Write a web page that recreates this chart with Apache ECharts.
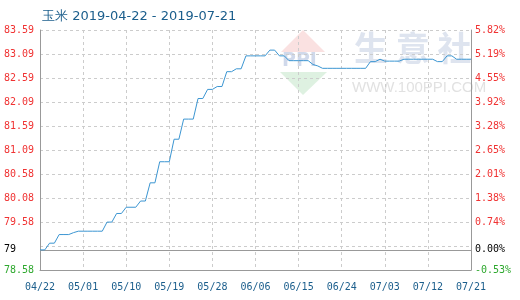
<!DOCTYPE html>
<html>
<head>
<meta charset="utf-8">
<script src="https://cdn.jsdelivr.net/npm/echarts@6/dist/echarts.min.js"></script>
<style>html,body{margin:0;padding:0;background:#fff;}#c{width:520px;height:300px;}</style>
</head>
<body>
<div id="c"></div>
<script>
var titleText = '玉米 2019-04-22 - 2019-07-21';
var startDate = [2019, 3, 22];
var dayCount = 91;
var xTickLabels = ['04/22','05/01','05/10','05/19','05/28','06/06','06/15','06/24','07/03','07/12','07/21'];
var prices = [
  79.00, 79.00, 79.14, 79.14, 79.32, 79.32, 79.32, 79.36, 79.39, 79.39,
  79.39, 79.39, 79.39, 79.39, 79.58, 79.58, 79.76, 79.76, 79.89, 79.89,
  79.89, 80.02, 80.02, 80.40, 80.40, 80.84, 80.84, 80.84, 81.31, 81.31,
  81.73, 81.73, 81.73, 82.16, 82.16, 82.35, 82.35, 82.41, 82.41, 82.72,
  82.72, 82.78, 82.78, 83.05, 83.05, 83.05, 83.05, 83.05, 83.17, 83.17,
  83.05, 83.05, 82.95, 82.95, 82.95, 82.95, 82.95, 82.87, 82.84, 82.79,
  82.79, 82.79, 82.79, 82.79, 82.79, 82.79, 82.79, 82.79, 82.79, 82.93,
  82.93, 82.98, 82.94, 82.94, 82.94, 82.94, 82.98, 82.98, 82.98, 82.98,
  82.98, 82.98, 82.98, 82.93, 82.93, 83.05, 83.05, 82.98, 82.98, 82.98,
  82.98
];
var baseValue = 79;
var yMin = 78.58, yMax = 83.59;
var leftTickLabels = ['78.58','','79.58','80.08','80.58','81.09','81.59','82.09','82.59','83.09','83.59'];
var rightTickLabels = ['-0.53%','','0.74%','1.38%','2.01%','2.65%','3.28%','3.92%','4.55%','5.19%','5.82%'];
var baseLeftLabel = '79';
var baseRightLabel = '0.00%';

var categories = [];
(function(){
  var d = new Date(startDate[0], startDate[1], startDate[2]);
  for (var i = 0; i < dayCount; i++) {
    var m = d.getMonth() + 1, dd = d.getDate();
    categories.push((m < 10 ? '0' : '') + m + '/' + (dd < 10 ? '0' : '') + dd);
    d.setDate(d.getDate() + 1);
  }
})();

var mono = 'DejaVu Sans Mono';
var RED = '#f03232', GREEN = '#2ea82e', BLUE = '#1b5e8c';
function tickColor(i){ return i === 0 ? GREEN : RED; }

var chart = echarts.init(document.getElementById('c'), null, {renderer: 'canvas'});
chart.setOption({
  animation: false,
  backgroundColor: '#fff',
  title: {
    text: titleText, left: 37, top: 5,
    textStyle: {fontFamily: 'DejaVu Sans', fontSize: 13, fontWeight: 'normal', color: BLUE}
  },
  grid: {left: 40, right: 49, top: 30, bottom: 30},
  graphic: [
    {type: 'polygon', z: 0, shape: {points: [[303,30],[281,52],[325,52]]}, style: {fill: 'rgba(240,170,170,0.35)'}},
    {type: 'polygon', z: 0, shape: {points: [[280,72],[327,72],[303,95]]}, style: {fill: 'rgba(160,215,170,0.35)'}},
    {type: 'text', z: 0, left: 282, top: 52, style: {text: 'PPI', font: 'bold 19px DejaVu Sans', fill: 'rgba(150,170,210,0.45)'}},
    {type: 'text', z: 0, left: 354, top: 31, style: {text: '生 意 社', font: 'bold 34px "Noto Sans CJK SC"', fill: 'rgba(200,210,228,0.6)'}},
    {type: 'text', z: 0, left: 352, top: 80, style: {text: 'WWW.100PPI.COM', font: '15px "Liberation Sans"', fill: 'rgba(205,205,205,0.6)'}}
  ],
  xAxis: {
    type: 'category', data: categories, boundaryGap: false,
    axisLine: {show: true, lineStyle: {color: '#999'}},
    axisTick: {show: false},
    axisLabel: {
      interval: 8, margin: 12, fontFamily: mono, fontSize: 10, color: BLUE,
      formatter: function(v, i){ return xTickLabels[i / 9] || v; }
    },
    splitLine: {show: true, interval: 8, lineStyle: {color: '#ccc', type: [3, 3]}}
  },
  yAxis: [
    {type: 'value', min: yMin, max: yMax, show: false, position: 'left'},
    {
      type: 'value', min: 0, max: 10, interval: 1, position: 'left',
      axisLine: {show: true, lineStyle: {color: '#999'}},
      axisTick: {show: false},
      axisLabel: {
        margin: 6, fontFamily: mono, fontSize: 10,
        formatter: function(v){ return leftTickLabels[Math.round(v)]; },
        color: function(v){ return tickColor(Math.round(v)); }
      },
      splitLine: {show: true, lineStyle: {color: '#ccc', type: [3, 3]}}
    },
    {
      type: 'value', min: 0, max: 10, interval: 1, position: 'right',
      axisLine: {show: true, lineStyle: {color: '#999'}},
      axisTick: {show: false},
      axisLabel: {
        margin: 4, fontFamily: mono, fontSize: 10,
        formatter: function(v){ return rightTickLabels[Math.round(v)]; },
        color: function(v){ return tickColor(Math.round(v)); }
      },
      splitLine: {show: false}
    }
  ],
  series: [{
    type: 'line', data: prices, yAxisIndex: 0, showSymbol: false, symbol: 'none',
    lineStyle: {width: 1, color: '#3c96d2'}, itemStyle: {color: '#3c96d2'}, z: 5,
    markLine: {
      silent: true, symbol: 'none', animation: false,
      lineStyle: {type: 'solid', color: '#999', width: 1},
      data: [
        {yAxis: baseValue, label: {show: true, position: 'start', distance: 6, formatter: baseLeftLabel + '   ', fontFamily: mono, fontSize: 10, color: '#000'}},
        {yAxis: baseValue, label: {show: true, position: 'end', distance: 4, formatter: baseRightLabel, fontFamily: mono, fontSize: 10, color: '#000'}}
      ]
    }
  }]
});
</script>
</body>
</html>
